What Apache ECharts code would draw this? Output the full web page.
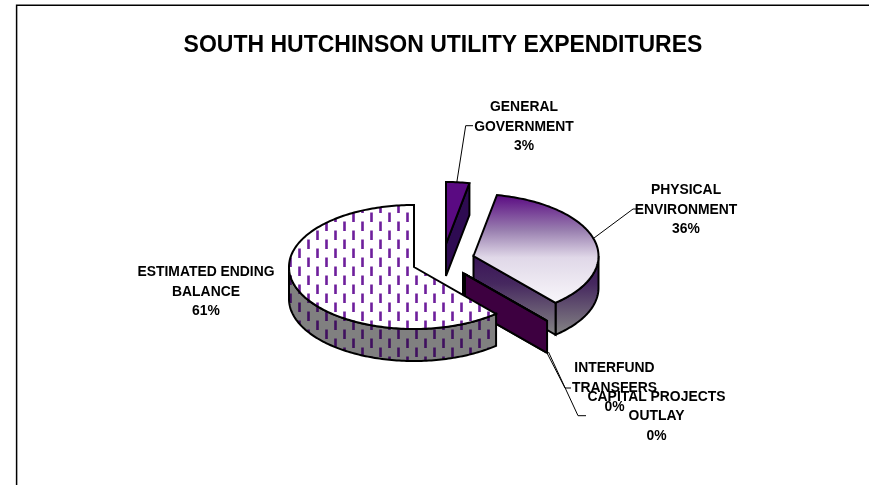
<!DOCTYPE html>
<html>
<head>
<meta charset="utf-8">
<title>South Hutchinson Utility Expenditures</title>
<script src="https://cdn.jsdelivr.net/npm/echarts@6/dist/echarts.min.js"></script>
<style>
html, body { margin: 0; padding: 0; background: #fff; }
#main { width: 869px; height: 485px; }
</style>
</head>
<body>
<div id="main"></div>
<script type="text/javascript">
var chartTitle = 'SOUTH HUTCHINSON UTILITY EXPENDITURES';
var categories = ['GENERAL\nGOVERNMENT', 'PHYSICAL\nENVIRONMENT', 'INTERFUND\nTRANSFERS', 'CAPITAL PROJECTS\nOUTLAY', 'ESTIMATED ENDING\nBALANCE'];
// labels show these rounded, the unrounded split is estimated from the cut angles
var percents = [3, 35.6, 0, 0, 61.4];

// layout of the fake 3d pie, in pixels
var center = [414, 267];
var rx = 125, ry = 62, depth = 32;
var explode = [[32, -23], [59.5, -11], [49, 6], [51, 7.1], [0, 0]];
var labelPos = [[524, 127], [686, 210], [614.5, 388], [656.5, 416.5], [206, 292]];
var leaders = [
    [[456.7, 183], [465.7, 125.7], [473, 125.7]],
    [[594, 238], [633, 209], [637, 209]],
    [[546.5, 352], [565, 388], [571, 388]],
    [[548.5, 352], [578, 415.7], [586, 415.7]],
    null
];
var drawOrder = [1, 0, 2, 3, 4];

function dashPattern(bg, dash) {
    var c = document.createElement('canvas');
    c.width = 18; c.height = 18;
    var ctx = c.getContext('2d');
    ctx.fillStyle = bg;
    ctx.fillRect(0, 0, 18, 18);
    ctx.fillStyle = dash;
    ctx.fillRect(1.2, 5.5, 2.6, 9.5);
    ctx.fillRect(10.2, 14.5, 2.6, 3.5);
    ctx.fillRect(10.2, 0, 2.6, 6);
    return { image: c, repeat: 'repeat' };
}

function grad(y1, y2, stops) {
    return new echarts.graphic.LinearGradient(0, y1, 0, y2, stops.map(function (s) {
        return { offset: s[0], color: s[1] };
    }), true);
}

var cy = center[1];
var wallStops = [[0, '#3a1458'], [0.35, '#46285f'], [1, '#858585']];
var sliceStyle = [
    { top: '#5a0a82', cut: '#2e0b52', wall: '#2e0b52' },
    {
        top: grad(cy - 72, cy + 36, [[0, '#5a0a82'], [0.33, '#9a80b0'], [0.58, '#e0d8e8'], [1, '#f8f6fa']]),
        cut: grad(cy - 11, cy + 68, wallStops),
        wall: grad(cy - 11, cy + 68, wallStops)
    },
    { top: '#3d0040', cut: '#3d0040', wall: '#3d0040' },
    { top: '#3d0040', cut: '#3d0040', wall: '#3d0040' },
    { top: dashPattern('#ffffff', '#6e1f9c'), cut: '#808080', wall: dashPattern('#808080', '#40105f') }
];

// clockwise angles from north, from the values
var starts = [], ends = [];
var total = percents.reduce(function (a, b) { return a + b; }, 0);
var acc = 0;
percents.forEach(function (v) {
    starts.push(acc / total * 2 * Math.PI);
    acc += v;
    ends.push(acc / total * 2 * Math.PI);
});

function rim(ox, oy, a) {
    return [ox + rx * Math.sin(a), oy - ry * Math.cos(a)];
}

function arcPoints(ox, oy, a1, a2) {
    var pts = [];
    var n = Math.max(1, Math.ceil((a2 - a1) / 0.02));
    for (var i = 0; i <= n; i++) {
        pts.push(rim(ox, oy, a1 + (a2 - a1) * i / n));
    }
    return pts;
}

function face(points, fill) {
    return {
        type: 'polygon',
        shape: { points: points },
        style: { fill: fill, stroke: '#000', lineWidth: 2, lineJoin: 'miter', miterLimit: 3 }
    };
}

function cutWall(ox, oy, a, fill) {
    var p = rim(ox, oy, a);
    return face([[ox, oy], p, [p[0], p[1] + depth], [ox, oy + depth]], fill);
}

function renderSlice(params) {
    var i = drawOrder[params.dataIndex];
    var ox = center[0] + explode[i][0], oy = center[1] + explode[i][1];
    var a1 = starts[i], a2 = ends[i], st = sliceStyle[i];
    var children = [];

    // outer wall, only the front half of the rim shows
    var w1 = Math.max(a1, Math.PI / 2), w2 = Math.min(a2, Math.PI * 1.5);
    if (w2 > w1) {
        var upper = arcPoints(ox, oy, w1, w2);
        var lower = upper.map(function (p) { return [p[0], p[1] + depth]; }).reverse();
        children.push(face(upper.concat(lower), st.wall));
    }
    if (Math.sin(a1) < -1e-6) children.push(cutWall(ox, oy, a1, st.cut));
    if (Math.sin(a2) > 1e-6) children.push(cutWall(ox, oy, a2, st.cut));

    children.push(face([[ox, oy]].concat(arcPoints(ox, oy, a1, a2)), st.top));
    return { type: 'group', children: children };
}

function renderLabel(params) {
    var i = params.dataIndex;
    var children = [{
        type: 'text',
        style: {
            text: categories[i] + '\n' + Math.round(percents[i]) + '%',
            x: labelPos[i][0],
            y: labelPos[i][1],
            align: 'center',
            verticalAlign: 'middle',
            fill: '#000',
            font: 'bold 13.9px "Liberation Sans", Arial, sans-serif',
            lineHeight: 19.4
        }
    }];
    if (leaders[i]) {
        children.unshift({
            type: 'polyline',
            shape: { points: leaders[i] },
            style: { fill: null, stroke: '#000', lineWidth: 1 }
        });
    }
    return { type: 'group', children: children };
}

var chart = echarts.init(document.getElementById('main'), null, { renderer: 'canvas' });

var option = {
    animation: false,
    backgroundColor: '#fff',
    title: {
        text: chartTitle,
        left: 438,
        top: 29,
        textAlign: 'center',
        textStyle: {
            fontFamily: '"Liberation Sans", Arial, sans-serif',
            fontWeight: 'bold',
            fontSize: 23,
            color: '#000'
        }
    },
    graphic: [{
        type: 'polyline',
        shape: { points: [[16.6, 485], [16.6, 5.3], [869, 5.3]] },
        style: { fill: null, stroke: '#000', lineWidth: 1.5 }
    }],
    series: [{
        type: 'custom',
        coordinateSystem: 'none',
        renderItem: renderSlice,
        data: drawOrder,
        silent: true,
        z: 2
    }, {
        type: 'custom',
        coordinateSystem: 'none',
        renderItem: renderLabel,
        data: percents,
        silent: true,
        z: 3
    }]
};

chart.setOption(option);
</script>
</body>
</html>
